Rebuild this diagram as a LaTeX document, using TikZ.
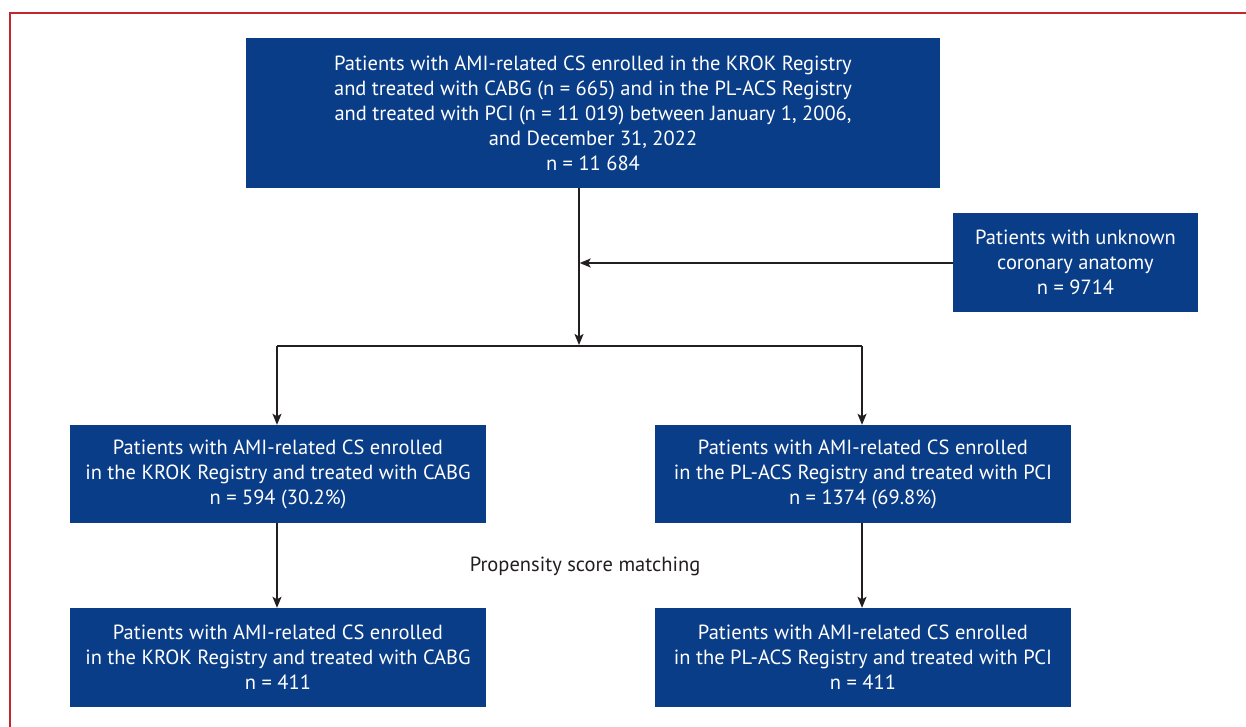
\documentclass[tikz,border=0pt]{standalone}
\usepackage{fontspec}
\setmainfont{PT Sans}
\usetikzlibrary{arrows.meta}
\definecolor{boxblue}{RGB}{10,61,136}
\definecolor{framered}{RGB}{193,39,45}
\definecolor{linegray}{RGB}{35,31,32}
\begin{document}
\begin{tikzpicture}[x=1pt,y=-1pt,
  box/.style={fill=boxblue, text=white, align=center, inner sep=0pt,
    font=\fontsize{20.5}{25}\selectfont},
  conn/.style={draw=linegray, line width=1.4pt},
  arr/.style={conn, -{Stealth[length=11pt,width=9pt,inset=2.5pt]}}]
\useasboundingbox (0,0) rectangle (1246,727);
\fill[white] (0,0) rectangle (1246,727);
\draw[framered, line width=1.6pt] (10,735) -- (10,13) -- (1255,13);

\node[box, minimum width=694pt, minimum height=150pt] (top) at (593,113)
  {Patients with AMI-related CS enrolled in the KROK Registry\\
   and treated with CABG (n = 665) and in the PL-ACS Registry\\
   and treated with PCI (n = 11 019) between January 1, 2006,\\
   and December 31, 2022\\
   n = 11 684};
\node[box, minimum width=245pt, minimum height=98.5pt] (unk) at (1075.5,262.5)
  {Patients with unknown\\ coronary anatomy\\ n = 9714};
\node[box, minimum width=416pt, minimum height=98pt] (kmid) at (278,474)
  {Patients with AMI-related CS enrolled\\ in the KROK Registry and treated with CABG\\ n = 594 (30.2\%)};
\node[box, minimum width=416pt, minimum height=98pt] (pmid) at (863,474)
  {Patients with AMI-related CS enrolled\\ in the PL-ACS Registry and treated with PCI\\ n = 1374 (69.8\%)};
\node[box, minimum width=416pt, minimum height=99pt] (kbot) at (278,657.5)
  {Patients with AMI-related CS enrolled\\ in the KROK Registry and treated with CABG\\ n = 411};
\node[box, minimum width=416pt, minimum height=99pt] (pbot) at (863,657.5)
  {Patients with AMI-related CS enrolled\\ in the PL-ACS Registry and treated with PCI\\ n = 411};
\node[text=linegray, font=\fontsize{20.5}{25}\selectfont] (psm) at (585,566) {Propensity score matching};

\coordinate (j1) at (579,263);
\coordinate (j2) at (579,345);
\coordinate (sl) at (277,346);
\coordinate (sr) at (862,346);

\draw[conn] (top.south -| j1) -- (j1);
\draw[arr] (j1) -- (j2);
\draw[arr] (unk.west |- j1) -- ([xshift=0.7pt]j1);
\draw[conn] (sl) -- (sr);
\draw[arr] (sl) -- (sl |- kmid.north);
\draw[arr] (sr) -- (sr |- pmid.north);
\draw[arr] (kmid.south -| sl) -- (sl |- kbot.north);
\draw[arr] (pmid.south -| sr) -- (sr |- pbot.north);
\end{tikzpicture}
\end{document}
